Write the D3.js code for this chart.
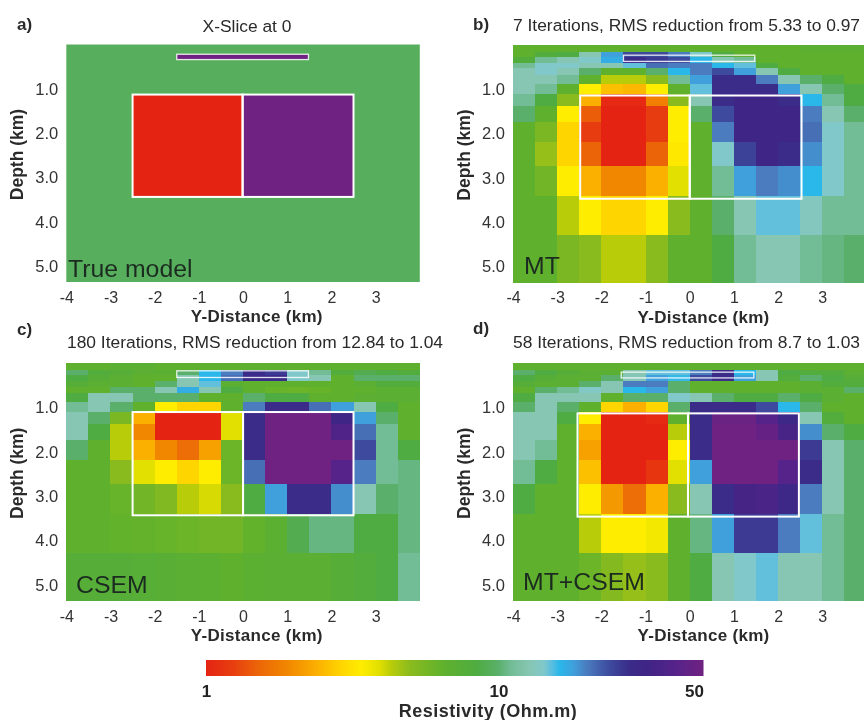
<!DOCTYPE html>
<html><head><meta charset="utf-8">
<script src="https://cdn.jsdelivr.net/npm/d3@7"></script>
<style>
html,body{margin:0;padding:0;background:#fff;overflow:hidden}
svg{display:block;filter:blur(0.6px)}
text{font-family:"Liberation Sans",Arial,sans-serif;fill:#2a2a2a}
</style></head><body><svg id="c" width="864" height="720"></svg>
<script>
// Cell edges (km)
const distanceEdges = [-4,-3.5,-3,-2.5,-2,-1.5,-1,-0.5,0,0.5,1,1.5,2,2.5,3,3.5,4];
const depthEdges = [0,0.15,0.26,0.41,0.53,0.68,0.87,1.11,1.37,1.73,2.19,2.73,3.41,4.29,5.36];
const distanceTicks = [-4,-3,-2,-1,0,1,2,3];
const depthTicks = [1,2,3,4,5];
const legendTicks = [1,10,50];
// Resistivity (Ohm.m) per depth row, per distance column
const mtResistivity = [
[6.5,6.5,6.5,6.5,6.5,6.5,6.5,6.5,6.5,6.5,6.5,6.5,6.5,7,7,7],
[6.5,8,8.5,12.7,18,24,24,20,14.3,8.5,6.5,6.5,6.5,6.5,6.5,6.5],
[8,11,12.7,14.3,17,28,26,24,16.2,12.7,11,6.5,6.5,6.5,6.5,6.5],
[11,14.3,14.3,12.7,12.7,15,21,20,20,16.2,15,8.5,6.5,6.5,6.5,6.5],
[12.7,14.3,12.7,10,6.5,6.5,10,16.2,20,24,18,12.7,8.5,6.5,6.5,6.5],
[12.7,12.7,11,6.5,4.3,4.3,5,11,18,28,28,20,12.7,10,8.5,6.5],
[12.7,11,6.5,3.4,2.6,2.5,3.4,6.5,15,28,28,28,18,12.7,10,8.5],
[11,8.5,5,2.4,1.05,1.05,1.8,5,12.7,28,32,32,28,16.2,11,8.5],
[10,6.5,3.4,1.45,1,1,1.2,3.4,10,24,32,32,32,20,12.7,10],
[6.5,5.5,2.9,1.2,1,1,1.2,3.4,6.5,20,32,32,32,21,14.3,11],
[6.5,4.8,2.9,1.5,1,1,1.5,3.3,6.5,14.3,25,32,28,19,14.3,11],
[6.5,5.8,3.4,2.4,1.9,1.9,2.4,3.9,6.5,11,18,20,19,16.2,14.3,11],
[6.5,6.5,4.3,3.4,2.9,2.9,3.4,5,6.5,10,12.7,15,15,13.5,11,11],
[6.5,6.5,5.5,5,4.3,4.3,5,6.5,6.5,8.5,11,12.7,12.7,11,10.5,10]
];
const csemResistivity = [
[6.5,6.5,7,7,6.5,6.5,6.5,6.5,6.5,6.5,6.5,6.5,6.5,6.5,6.5,6.5],
[10,8,7.5,7,7,10,16.2,20,28,26,14.3,11,8,9,8.5,8],
[8.5,7.5,7,6.5,6.5,12.7,16.2,21,28,28,14.3,12.7,6.5,10,10,10],
[7.5,7,7,6.5,10,12.7,15,7,6.5,6.5,6.5,6.5,6.5,7,8,8],
[6.5,6.5,10,10,12.7,17,12.7,8.5,6.5,6.2,6,6.2,6.5,6.5,7,7],
[8.5,12.7,12.7,10,10,10,6.5,6.5,10,8.5,8.5,6.5,6.5,7,7,7],
[11,12.7,10,6.5,3.4,2.9,2.9,6.5,20,28,28,21,18,12.7,8.5,6.5],
[12.7,10,5.5,2.4,1,1,1,3.9,28,50,50,50,32,18,10,6.5],
[12.7,8.5,4.3,1.9,1,1,1,3.9,28,50,50,50,38,21,11,6.5],
[10,6.5,4.3,2.4,1.9,1.6,2.2,6,28,50,50,50,50,24,11,8.5],
[6.5,6.5,5,3.9,3.4,2.9,3.4,6,21,50,50,50,40,20,11,10.5],
[6.5,6.5,6.2,5.8,5.3,4.3,4,5,8.5,18,28,28,19,12.7,10,10.5],
[6.5,6.5,6.4,6.3,6.2,6,5.8,5.8,6.4,6.8,9,10.5,10.5,8.5,8.5,10.5],
[7.5,7.5,7.5,7.4,7.2,7,6.8,6.5,6.8,7,7,7,7.5,8,8.5,11]
];
const jointResistivity = [
[6.5,6.5,6.5,6.5,6.5,6.5,6.5,6.5,6.5,6.5,6.5,6.5,6.5,6.5,6.5,6.5],
[10,8.5,7.5,7,7,12.7,15,15,20,28,16.2,12.7,8.5,8,8,7],
[8.5,7.5,7,7,10,13,18,16,24,28,18,12.7,8,10,8.5,7.5],
[7.5,7,7,10,12.7,20,20,10,6.5,6.5,6.5,6.5,6.5,7,8,8],
[6.5,10,11,14,12.7,16.2,18,10,6.5,6.5,6.5,6.5,6.5,7,7,10],
[8.5,12.7,12.7,12.7,6.5,10,10,14.3,12.7,10,8.5,8.5,10,8.5,7,6.5],
[10,12.7,10,6.5,2.9,2.4,2.9,10,28,28,28,24,16.2,10,6.5,6.5],
[12.7,12.7,8.5,3.4,1,1,1.05,6.5,28,48,48,40,30,12.7,8,6.5],
[12.7,12.7,6.5,2.4,1,1,1,4.3,28,50,50,46,35,19,10,8.5],
[12.7,11,6.5,2.2,1,1,1,3.4,28,50,50,50,50,26,12.7,10],
[11,8.5,6.5,2.6,1,1,1.15,3.9,18,50,50,50,40,28,12.7,10],
[8.5,6.5,6.5,3.4,2.1,1.6,2.4,5,12.7,28,34,36,30,20,12.7,10],
[6.5,6.5,6.5,4.3,3.4,3.4,3.6,6.5,10.5,18,26,26,20,15,11,10],
[6.5,6.5,6.5,6,5.2,4.8,5,6.5,8.5,12.7,14.3,15,12.7,12.7,11,10]
];
const backgroundValue = [9.5];
const blockValues = [1,50];
const stripValue = [50];
// Colour scale
const colorValues = [1,1.25,1.5,1.9,2.4,2.9,3.4,3.9,4.3,5,6.5,8.5,10,11,12.7,14.3,15,16.2,18,20,24,28,32,40,50];
const colorList = ["#e42313","#e8400f","#ec6408","#f18700","#fbb000","#ffd500","#ffed00","#e2e000","#b8cc0a","#8abb1e","#5fb12d","#4fac42","#5ab06a","#72bc96","#86c6b2","#80c8ca","#62c0dc","#2ab7ea","#3fa0dc","#4a7cbf","#3d4a9d","#3b2c8a","#3f2585","#55238a","#6f2281"];
const color = d3.scaleLog().domain(colorValues).range(colorList).clamp(true);

const panels = [
 {left:66.3,top:44.5,letter:"a)",lx:17,ly:30,title:"X-Slice at 0",tx:247,ty:32,anchor:"middle",name:"True model",nx:68,ny:277,rows:null,
  box:[-2.5,-0.01,2.5,1.13,3.44],strip:[-1.5,1.48,0.22,0.34]},
 {left:513,top:45,letter:"b)",lx:473,ly:30,title:"7 Iterations, RMS reduction from 5.33 to 0.97",tx:513,ty:31,anchor:"start",name:"MT",nx:524,ny:274,rows:mtResistivity,
  box:[-2.48,0,2.53,1.14,3.47],strip:[-1.5,1.47,0.23,0.37]},
 {left:66.3,top:363.3,letter:"c)",lx:17,ly:335,title:"180 Iterations, RMS reduction from 12.84 to 1.04",tx:67,ty:348,anchor:"start",name:"CSEM",nx:76,ny:593,rows:csemResistivity,
  box:[-2.5,0,2.5,1.1,3.43],strip:[-1.5,1.48,0.17,0.32]},
 {left:513,top:363.3,letter:"d)",lx:473,ly:334,title:"58 Iterations, RMS reduction from 8.7 to 1.03",tx:513,ty:348,anchor:"start",name:"MT+CSEM",nx:523,ny:590,rows:jointResistivity,
  box:[-2.54,-0.04,2.47,1.13,3.46],strip:[-1.55,1.45,0.2,0.33]}
];

const svg = d3.select("#c");
panels.forEach(p=>{
  const x = d3.scaleLinear().domain([-4,4]).range([p.left,p.left+353.5]);
  const y = d3.scaleLinear().domain([0,5.36]).range([p.top,p.top+237.5]);
  const g = svg.append("g");
  if(p.rows){
    p.rows.forEach((row,ri)=>{
      g.selectAll(null).data(row).join("rect")
       .attr("x",(d,i)=>x(distanceEdges[i]))
       .attr("y",y(depthEdges[ri]))
       .attr("width",(d,i)=>x(distanceEdges[i+1])-x(distanceEdges[i]))
       .attr("height",y(depthEdges[ri+1])-y(depthEdges[ri]))
       .attr("shape-rendering","crispEdges")
       .attr("fill",d=>color(d));
    });
  } else {
    g.append("rect").attr("x",x(-4)).attr("y",y(0)).attr("width",x(4)-x(-4)).attr("height",y(5.36)-y(0)).attr("fill",color(backgroundValue[0]));
    g.selectAll(null).data(blockValues).join("rect")
     .attr("x",(d,i)=>x(p.box[i])).attr("y",y(p.box[3]))
     .attr("width",(d,i)=>x(p.box[i+1])-x(p.box[i])).attr("height",y(p.box[4])-y(p.box[3]))
     .attr("fill",d=>color(d));
    g.append("rect").attr("x",x(p.strip[0])).attr("y",y(p.strip[2])).attr("width",x(p.strip[1])-x(p.strip[0])).attr("height",y(p.strip[3])-y(p.strip[2])).attr("fill",color(stripValue[0]));
  }
  // white outlines
  g.selectAll(null).data([0,1]).join("rect")
   .attr("x",i=>x(p.box[i])).attr("y",y(p.box[3]))
   .attr("width",i=>x(p.box[i+1])-x(p.box[i])).attr("height",y(p.box[4])-y(p.box[3]))
   .attr("fill","none").attr("stroke","#fff").attr("stroke-width",2);
  g.append("rect").attr("x",x(p.strip[0])).attr("y",y(p.strip[2])).attr("width",x(p.strip[1])-x(p.strip[0])).attr("height",y(p.strip[3])-y(p.strip[2]))
   .attr("fill","none").attr("stroke","#fff").attr("stroke-opacity",0.85).attr("stroke-width",1.3);

  const ax = svg.append("g").attr("transform",`translate(0,${p.top+237.5+1})`)
    .call(d3.axisBottom(x).tickValues(distanceTicks).tickSize(0).tickPadding(8.5).tickFormat(d=>String(d)));
  ax.select(".domain").remove();
  ax.selectAll("text").style("font-size","16px").style("font-family",'"Liberation Sans"').style("fill","#333");
  const ay = svg.append("g").attr("transform",`translate(${p.left-4},0)`)
    .call(d3.axisLeft(y).tickValues(depthTicks).tickSize(0).tickPadding(4).tickFormat(d3.format(".1f")));
  ay.select(".domain").remove();
  ay.selectAll("text").style("font-size","16.5px").style("font-family",'"Liberation Sans"').style("fill","#333");

  svg.append("text").attr("x",p.left+190.5).attr("y",p.top+277.6).attr("text-anchor","middle")
   .style("font-weight","bold").style("font-size","17px").style("letter-spacing","0.3px").text("Y-Distance (km)");
  svg.append("text").attr("transform",`translate(${p.left-43},${p.top+110}) rotate(-90)`).attr("text-anchor","middle")
   .style("font-weight","bold").style("font-size","17.5px").text("Depth (km)");
  svg.append("text").attr("x",p.lx).attr("y",p.ly).style("font-weight","bold").style("font-size","17px").text(p.letter);
  svg.append("text").attr("x",p.tx).attr("y",p.ty).attr("text-anchor",p.anchor).style("font-size","17.4px").text(p.title);
  svg.append("text").attr("x",p.nx).attr("y",p.ny).style("font-size","24.8px").style("fill","#1c2b20").text(p.name);
});

// Colour bar
const lx = d3.scaleLog().domain([1,50]).range([206,703]);
svg.append("g").selectAll("rect").data(d3.range(206,703)).join("rect")
  .attr("x",d=>d).attr("y",660).attr("width",1.5).attr("height",16)
  .attr("fill",d=>color(lx.invert(d+0.5)));
const la = svg.append("g").attr("transform","translate(0,676)")
  .call(d3.axisBottom(lx).tickValues(legendTicks).tickSize(0).tickPadding(9).tickFormat(d3.format("d")));
la.select(".domain").remove();
la.selectAll("text").style("font-size","17px").style("font-weight","bold").style("font-family",'"Liberation Sans"').style("fill","#222");
la.selectAll(".tick").filter(d=>d===50).select("text").attr("dx",-9);
svg.append("text").attr("x",488).attr("y",717).attr("text-anchor","middle").style("font-weight","bold").style("font-size","18px").style("letter-spacing","0.5px").text("Resistivity (Ohm.m)");
</script></body></html>
